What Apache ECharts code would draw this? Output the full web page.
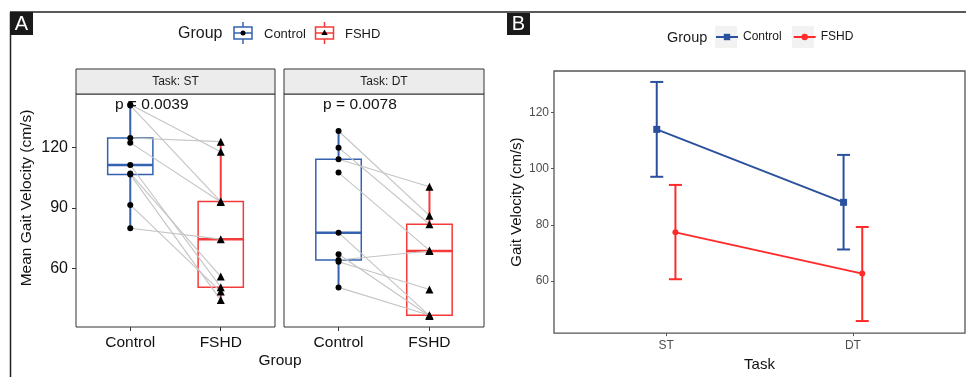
<!DOCTYPE html>
<html>
<head>
<meta charset="utf-8">
<title>Gait velocity</title>
<script src="https://cdn.jsdelivr.net/npm/echarts@6/dist/echarts.min.js"></script>
<style>
  html, body { margin: 0; padding: 0; background: #fff; }
  #chart { width: 966px; height: 377px; }
</style>
</head>
<body>
<div id="chart"></div>
<script>
// ---- data ----
const groups = ['Control', 'FSHD'];
const tasks = ['ST', 'DT'];
// panel A: paired subjects, same index = same subject
const stControl = [141.5, 141.0, 124.8, 122.5, 111.4, 107.2, 106.6, 91.5, 79.9];
const stFshd = [118.0, 93.2, 123.0, 93.0, 50.6, 55.9, 44.2, 48.4, 74.5];
const dtControl = [128.3, 120.0, 114.2, 107.6, 77.7, 67.0, 64.1, 63.3, 50.5];
const dtFshd = [86.2, 81.9, 100.6, 68.9, 36.5, 36.3, 68.6, 49.5, 36.6];
const pValues = ['p = 0.0039', 'p = 0.0078'];
const yTicksA = [60, 90, 120];
// panel B: mean with error bars
const ctrlMean = [114.0, 88.0];
const ctrlLow = [97.1, 71.2];
const ctrlHigh = [130.9, 104.9];
const fshdMean = [77.3, 62.6];
const fshdLow = [60.6, 45.7];
const fshdHigh = [94.2, 79.2];
const yTicksB = [60, 80, 100, 120];

const FONT = 'Liberation Sans, Arial, sans-serif';
const boxColors = ['#3462b0', '#f43a3a'];
const blueB = '#2b519e';
const redB = '#ff2a2a';

// quantile (type 7, like R default)
function quantile(sorted, p) {
    const h = (sorted.length - 1) * p;
    const lo = Math.floor(h);
    return sorted[lo] + (h - lo) * ((sorted[lo + 1] ?? sorted[lo]) - sorted[lo]);
}
function boxStats(vals, x, colorIdx) {
    const s = vals.slice().sort((a, b) => a - b);
    const q1 = quantile(s, 0.25), med = quantile(s, 0.5), q3 = quantile(s, 0.75);
    const iqr = q3 - q1;
    const lo = Math.min(...s.filter(v => v >= q1 - 1.5 * iqr));
    const hi = Math.max(...s.filter(v => v <= q3 + 1.5 * iqr));
    return [x, lo, q1, med, q3, hi, colorIdx];
}

function renderBox(params, api) {
    const x = api.value(0);
    const color = boxColors[api.value(6)];
    const tl = api.coord([x - 0.25, api.value(4)]);
    const br = api.coord([x + 0.25, api.value(2)]);
    const top = api.coord([x, api.value(5)]);
    const bot = api.coord([x, api.value(1)]);
    const m1 = api.coord([x - 0.25, api.value(3)]);
    const m2 = api.coord([x + 0.25, api.value(3)]);
    return {
        type: 'group',
        children: [
            { type: 'line', shape: { x1: top[0], y1: top[1], x2: top[0], y2: tl[1] }, style: { stroke: color, lineWidth: 2 } },
            { type: 'line', shape: { x1: bot[0], y1: br[1], x2: bot[0], y2: bot[1] }, style: { stroke: color, lineWidth: 2 } },
            { type: 'rect', shape: { x: tl[0], y: tl[1], width: br[0] - tl[0], height: br[1] - tl[1] }, style: { fill: '#fff', stroke: color, lineWidth: 1.5 } },
            { type: 'line', shape: { x1: m1[0], y1: m1[1], x2: m2[0], y2: m2[1] }, style: { stroke: color, lineWidth: 2.5 } }
        ]
    };
}
function renderPair(params, api) {
    const a = api.coord([1, api.value(0)]);
    const b = api.coord([2, api.value(1)]);
    return { type: 'line', shape: { x1: a[0], y1: a[1], x2: b[0], y2: b[1] }, style: { stroke: '#c4c4c4', lineWidth: 1.1 } };
}
function renderP(params, api) {
    const p = api.coord([api.value(0), api.value(1)]);
    return { type: 'text', x: p[0], y: p[1], style: { text: pValues[params.seriesIndex === 4 ? 0 : 1], fill: '#111', fontSize: 15.5, fontFamily: FONT, align: 'left', verticalAlign: 'middle' } };
}
function errRenderer(color) {
    return function (params, api) {
        const x = api.value(0);
        const hi = api.coord([x, api.value(2)]);
        const lo = api.coord([x, api.value(1)]);
        const w = 6.5;
        const st = { stroke: color, lineWidth: 2 };
        return {
            type: 'group',
            children: [
                { type: 'line', shape: { x1: hi[0], y1: hi[1], x2: lo[0], y2: lo[1] }, style: st },
                { type: 'line', shape: { x1: hi[0] - w, y1: hi[1], x2: hi[0] + w, y2: hi[1] }, style: st },
                { type: 'line', shape: { x1: lo[0] - w, y1: lo[1], x2: lo[0] + w, y2: lo[1] }, style: st }
            ]
        };
    };
}

const xAxisA = (gi) => ({
    gridIndex: gi, type: 'value', min: 0.4, max: 2.6,
    axisLine: { show: false },
    splitLine: { show: false },
    axisTick: { show: true, customValues: [1, 2], length: 4, lineStyle: { color: '#333' } },
    axisLabel: { customValues: [1, 2], formatter: v => groups[Math.round(v) - 1], fontSize: 15.5, color: '#111', fontFamily: FONT, margin: 8 }
});
const yAxisA = (gi, showLabels) => ({
    gridIndex: gi, type: 'value', min: 30.8, max: 146.7,
    axisLine: { show: false },
    splitLine: { show: false },
    axisTick: { show: showLabels, customValues: yTicksA, length: 4, lineStyle: { color: '#333' } },
    axisLabel: { show: showLabels, customValues: yTicksA, fontSize: 16, color: '#111', fontFamily: FONT, margin: 8 }
});

const scatterStyle = { color: '#000', opacity: 1 };

const chart = echarts.init(document.getElementById('chart'));
const option = {
    animation: false,
    backgroundColor: '#fff',
    textStyle: { fontFamily: FONT },
    grid: [
        { left: 76, top: 94, width: 199, height: 233, show: true, borderColor: '#333', borderWidth: 1, backgroundColor: '#fff' },
        { left: 284, top: 94, width: 200, height: 233, show: true, borderColor: '#333', borderWidth: 1, backgroundColor: '#fff' },
        { left: 554, top: 71, width: 411, height: 265, show: true, borderColor: '#555', borderWidth: 1.3, backgroundColor: '#fff' }
    ],
    xAxis: [
        xAxisA(0),
        xAxisA(1),
        {
            gridIndex: 2, type: 'value', min: 0.4, max: 2.6,
            name: 'Task', nameLocation: 'middle', nameGap: 19,
            nameTextStyle: { fontSize: 15, color: '#111', fontFamily: FONT },
            axisLine: { show: false },
            splitLine: { show: false },
            axisTick: { customValues: [1, 2], length: 3, lineStyle: { color: '#555' } },
            axisLabel: { customValues: [1, 2], formatter: v => tasks[Math.round(v) - 1], fontSize: 12, color: '#4d4d4d', fontFamily: FONT, margin: 7 }
        }
    ],
    yAxis: [
        yAxisA(0, true),
        yAxisA(1, false),
        {
            gridIndex: 2, type: 'value', min: 41.4, max: 134.8,
            name: 'Gait Velocity (cm/s)', nameLocation: 'middle', nameGap: 30,
            nameTextStyle: { fontSize: 15, color: '#111', fontFamily: FONT },
            axisLine: { show: false },
            splitLine: { show: false },
            axisTick: { customValues: yTicksB, length: 3, lineStyle: { color: '#555' } },
            axisLabel: { customValues: yTicksB, fontSize: 12, color: '#4d4d4d', fontFamily: FONT, margin: 5 }
        }
    ],
    legend: {
        data: groups,
        left: 715, top: 31, padding: 0,
        itemWidth: 22, itemHeight: 8, itemGap: 11,
        selectedMode: false,
        textStyle: { fontSize: 12, color: '#1a1a1a', fontFamily: FONT }
    },
    series: [
        // 0,1 boxes
        { type: 'custom', name: 'box ST', xAxisIndex: 0, yAxisIndex: 0, renderItem: renderBox, encode: { x: 0, y: 3 }, z: 1,
          data: [boxStats(stControl, 1, 0), boxStats(stFshd, 2, 1)] },
        { type: 'custom', name: 'box DT', xAxisIndex: 1, yAxisIndex: 1, renderItem: renderBox, encode: { x: 0, y: 3 }, z: 1,
          data: [boxStats(dtControl, 1, 0), boxStats(dtFshd, 2, 1)] },
        // 2,3 paired lines
        { type: 'custom', name: 'pairs ST', xAxisIndex: 0, yAxisIndex: 0, renderItem: renderPair, z: 2,
          data: stControl.map((v, i) => [v, stFshd[i]]) },
        { type: 'custom', name: 'pairs DT', xAxisIndex: 1, yAxisIndex: 1, renderItem: renderPair, z: 2,
          data: dtControl.map((v, i) => [v, dtFshd[i]]) },
        // 4,5 p-values
        { type: 'custom', name: 'p ST', xAxisIndex: 0, yAxisIndex: 0, renderItem: renderP, z: 2, data: [[0.83, 141.2]] },
        { type: 'custom', name: 'p DT', xAxisIndex: 1, yAxisIndex: 1, renderItem: renderP, z: 2, data: [[0.83, 141.2]] },
        // points
        { type: 'scatter', name: 'pts ST c', xAxisIndex: 0, yAxisIndex: 0, symbol: 'circle', symbolSize: 6, itemStyle: scatterStyle, z: 3,
          data: stControl.map(v => [1, v]) },
        { type: 'scatter', name: 'pts ST f', xAxisIndex: 0, yAxisIndex: 0, symbol: 'triangle', symbolSize: 8, itemStyle: scatterStyle, z: 3,
          data: stFshd.map(v => [2, v]) },
        { type: 'scatter', name: 'pts DT c', xAxisIndex: 1, yAxisIndex: 1, symbol: 'circle', symbolSize: 6, itemStyle: scatterStyle, z: 3,
          data: dtControl.map(v => [1, v]) },
        { type: 'scatter', name: 'pts DT f', xAxisIndex: 1, yAxisIndex: 1, symbol: 'triangle', symbolSize: 8, itemStyle: scatterStyle, z: 3,
          data: dtFshd.map(v => [2, v]) },
        // panel B
        { type: 'custom', name: 'err c', xAxisIndex: 2, yAxisIndex: 2, renderItem: errRenderer(blueB), z: 2,
          data: ctrlMean.map((m, i) => [i + 1 - 0.05, ctrlLow[i], ctrlHigh[i]]) },
        { type: 'custom', name: 'err f', xAxisIndex: 2, yAxisIndex: 2, renderItem: errRenderer(redB), z: 2,
          data: fshdMean.map((m, i) => [i + 1 + 0.05, fshdLow[i], fshdHigh[i]]) },
        { type: 'line', name: 'Control', xAxisIndex: 2, yAxisIndex: 2, symbol: 'rect', symbolSize: 7, z: 3,
          itemStyle: { color: blueB }, lineStyle: { color: blueB, width: 2 },
          data: ctrlMean.map((m, i) => [i + 1 - 0.05, m]) },
        { type: 'line', name: 'FSHD', xAxisIndex: 2, yAxisIndex: 2, symbol: 'circle', symbolSize: 6, z: 3,
          itemStyle: { color: redB }, lineStyle: { color: redB, width: 2 },
          data: fshdMean.map((m, i) => [i + 1 + 0.05, m]) }
    ],
    graphic: [
        // frame
        { type: 'line', shape: { x1: 10, y1: 12, x2: 966, y2: 12 }, style: { stroke: '#222', lineWidth: 1.5 } },
        { type: 'line', shape: { x1: 10.5, y1: 12, x2: 10.5, y2: 377 }, style: { stroke: '#222', lineWidth: 1.5 } },
        // panel badges
        { type: 'rect', shape: { x: 10, y: 12, width: 23, height: 23 }, style: { fill: '#1a1a1a' } },
        { type: 'text', x: 21.5, y: 24.5, style: { text: 'A', fill: '#fff', fontSize: 20, fontFamily: FONT, align: 'center', verticalAlign: 'middle' } },
        { type: 'rect', shape: { x: 507, y: 13, width: 23, height: 22 }, style: { fill: '#1a1a1a' } },
        { type: 'text', x: 518.5, y: 24.5, style: { text: 'B', fill: '#fff', fontSize: 20, fontFamily: FONT, align: 'center', verticalAlign: 'middle' } },
        // legend A
        { type: 'text', x: 178, y: 34, style: { text: 'Group', fill: '#1a1a1a', fontSize: 16, fontFamily: FONT, align: 'left', verticalAlign: 'middle' } },
        { type: 'line', shape: { x1: 243, y1: 22, x2: 243, y2: 44 }, style: { stroke: boxColors[0], lineWidth: 1.5 } },
        { type: 'rect', shape: { x: 234, y: 27, width: 18, height: 12 }, style: { fill: '#fff', stroke: boxColors[0], lineWidth: 1.5 } },
        { type: 'line', shape: { x1: 234, y1: 33, x2: 252, y2: 33 }, style: { stroke: boxColors[0], lineWidth: 1.5 } },
        { type: 'circle', shape: { cx: 243, cy: 33, r: 2.5 }, style: { fill: '#000' } },
        { type: 'text', x: 264, y: 34, style: { text: 'Control', fill: '#1a1a1a', fontSize: 13, fontFamily: FONT, align: 'left', verticalAlign: 'middle' } },
        { type: 'line', shape: { x1: 324.5, y1: 22, x2: 324.5, y2: 44 }, style: { stroke: boxColors[1], lineWidth: 1.5 } },
        { type: 'rect', shape: { x: 315.5, y: 27, width: 18, height: 12 }, style: { fill: '#fff', stroke: boxColors[1], lineWidth: 1.5 } },
        { type: 'line', shape: { x1: 315.5, y1: 33, x2: 333.5, y2: 33 }, style: { stroke: boxColors[1], lineWidth: 1.5 } },
        { type: 'polygon', shape: { points: [[324.5, 29.5], [321.3, 35], [327.7, 35]] }, style: { fill: '#000' } },
        { type: 'text', x: 345, y: 34, style: { text: 'FSHD', fill: '#1a1a1a', fontSize: 13, fontFamily: FONT, align: 'left', verticalAlign: 'middle' } },
        // facet strips
        { type: 'rect', shape: { x: 76, y: 69, width: 199, height: 25 }, style: { fill: '#ececec', stroke: '#333', lineWidth: 1 } },
        { type: 'text', x: 175.5, y: 82, style: { text: 'Task: ' + tasks[0], fill: '#1a1a1a', fontSize: 12, fontFamily: FONT, align: 'center', verticalAlign: 'middle' } },
        { type: 'rect', shape: { x: 284, y: 69, width: 200, height: 25 }, style: { fill: '#ececec', stroke: '#333', lineWidth: 1 } },
        { type: 'text', x: 384, y: 82, style: { text: 'Task: ' + tasks[1], fill: '#1a1a1a', fontSize: 12, fontFamily: FONT, align: 'center', verticalAlign: 'middle' } },
        // panel A axis titles
        { type: 'text', x: 27, y: 198, rotation: Math.PI / 2, style: { text: 'Mean Gait Velocity (cm/s)', fill: '#111', fontSize: 15.5, fontFamily: FONT, align: 'center', verticalAlign: 'middle' } },
        { type: 'text', x: 280, y: 361, style: { text: 'Group', fill: '#111', fontSize: 15.5, fontFamily: FONT, align: 'center', verticalAlign: 'middle' } },
        // legend B title and key backgrounds
        { type: 'text', x: 667, y: 38, style: { text: 'Group', fill: '#1a1a1a', fontSize: 14.5, fontFamily: FONT, align: 'left', verticalAlign: 'middle' } },
        { type: 'rect', z: -1, shape: { x: 715, y: 26, width: 22, height: 22 }, style: { fill: '#f2f2f2' } },
        { type: 'rect', z: -1, shape: { x: 792, y: 26, width: 22, height: 22 }, style: { fill: '#f2f2f2' } }
    ]
};
chart.setOption(option);
window.addEventListener('resize', function () {
    chart.resize();
});
</script>
</body>
</html>
